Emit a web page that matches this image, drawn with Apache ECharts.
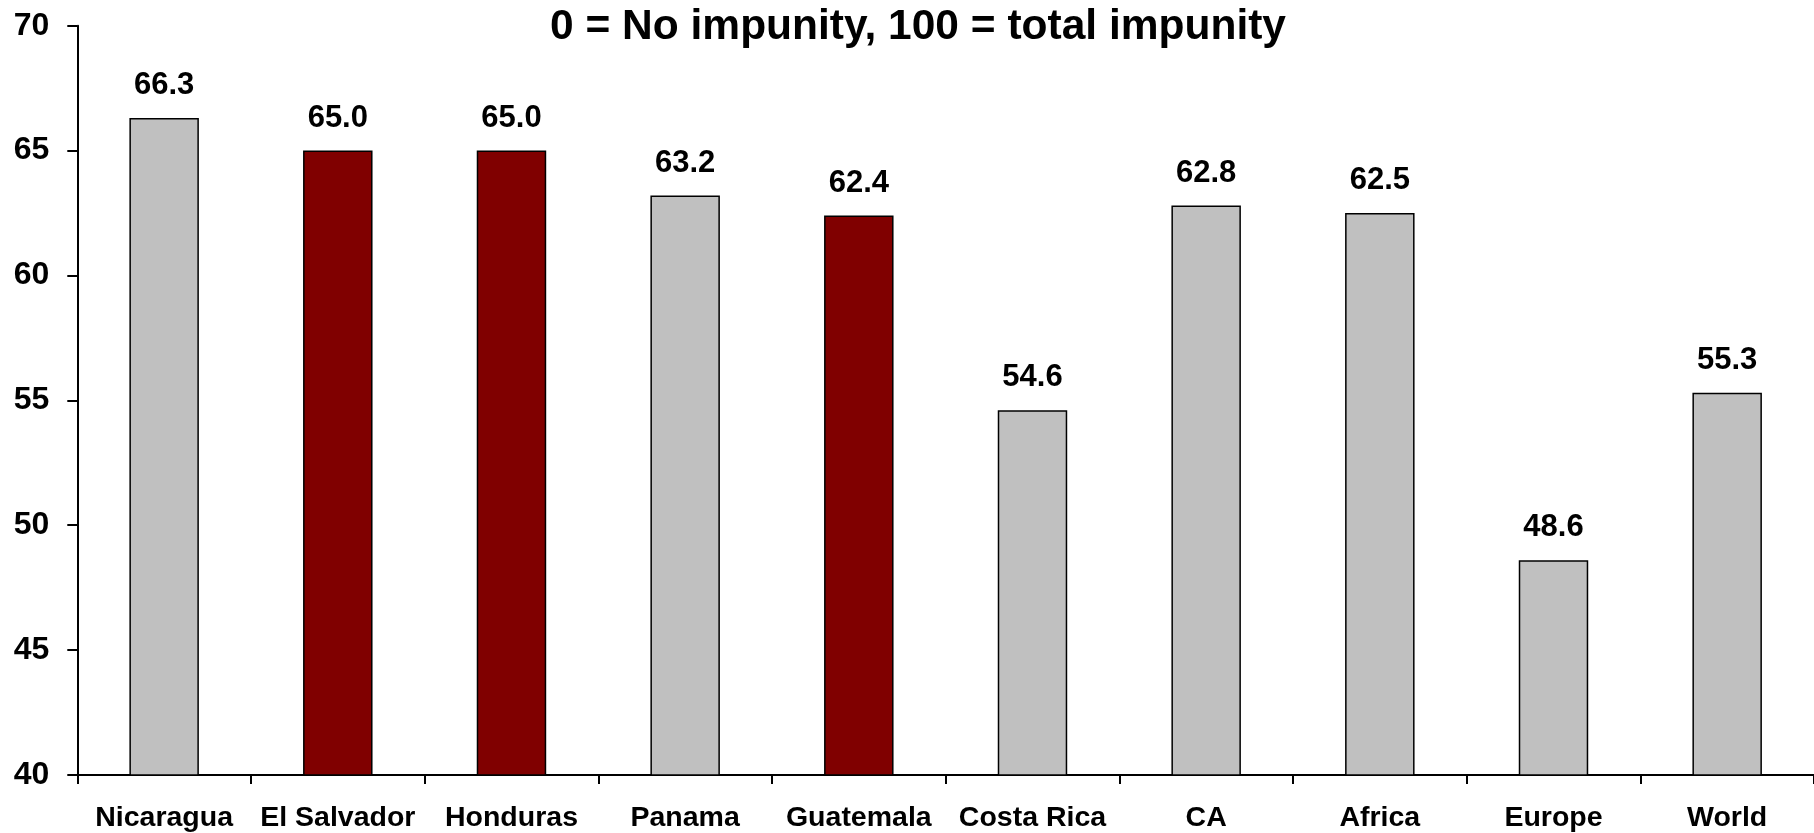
<!DOCTYPE html>
<html>
<head>
<meta charset="utf-8">
<script src="https://cdn.jsdelivr.net/npm/echarts@6/dist/echarts.min.js"></script>
<style>
  html, body { margin: 0; padding: 0; background: #fff; }
  #main { width: 1814px; height: 833px; }
</style>
</head>
<body>
<div id="main"></div>
<script>
const categories = ['Nicaragua', 'El Salvador', 'Honduras', 'Panama', 'Guatemala', 'Costa Rica', 'CA', 'Africa', 'Europe', 'World'];
const values = [66.3, 65.0, 65.0, 63.2, 62.4, 54.6, 62.8, 62.5, 48.6, 55.3];
const highlighted = ['El Salvador', 'Honduras', 'Guatemala'];
const yTicks = {min: 40, max: 70, interval: 5};
const titleText = '0 = No impunity, 100 = total impunity';

const font = 'Liberation Sans, Arial, sans-serif';

const chart = echarts.init(document.getElementById('main'));
chart.setOption({
  animation: false,
  title: {
    text: titleText,
    left: 550,
    top: 6,
    padding: 0,
    textStyle: {fontFamily: font, fontSize: 42.5, fontWeight: 'bold', color: '#000'}
  },
  grid: {
    left: 77.3,
    top: 25.7,
    bottom: 55.3,
    width: 1745
  },
  xAxis: {
    type: 'category',
    data: categories,
    boundaryGap: true,
    axisLine: {lineStyle: {color: '#000', width: 2}},
    axisTick: {show: true, length: 9, lineStyle: {color: '#000', width: 2}},
    axisLabel: {
      margin: 29,
      interval: 0,
      color: '#000',
      fontFamily: font,
      fontSize: 28.5,
      fontWeight: 'bold'
    }
  },
  yAxis: {
    type: 'value',
    min: yTicks.min,
    max: yTicks.max,
    interval: yTicks.interval,
    splitLine: {show: false},
    axisLine: {show: true, lineStyle: {color: '#000', width: 2}},
    axisTick: {show: true, length: 10, lineStyle: {color: '#000', width: 2}},
    axisLabel: {
      margin: 28,
      color: '#000',
      fontFamily: font,
      fontSize: 32,
      fontWeight: 'bold'
    }
  },
  series: [{
    type: 'bar',
    barWidth: '40%',
    data: values.map((v, i) => ({
      value: v,
      itemStyle: {
        color: highlighted.includes(categories[i]) ? '#800000' : '#C0C0C0',
        borderColor: '#000',
        borderWidth: 1.5
      }
    })),
    label: {
      show: true,
      position: 'top',
      distance: 17,
      color: '#000',
      fontFamily: font,
      fontSize: 31,
      fontWeight: 'bold',
      formatter: p => p.value.toFixed(1)
    }
  }]
});
</script>
</body>
</html>
